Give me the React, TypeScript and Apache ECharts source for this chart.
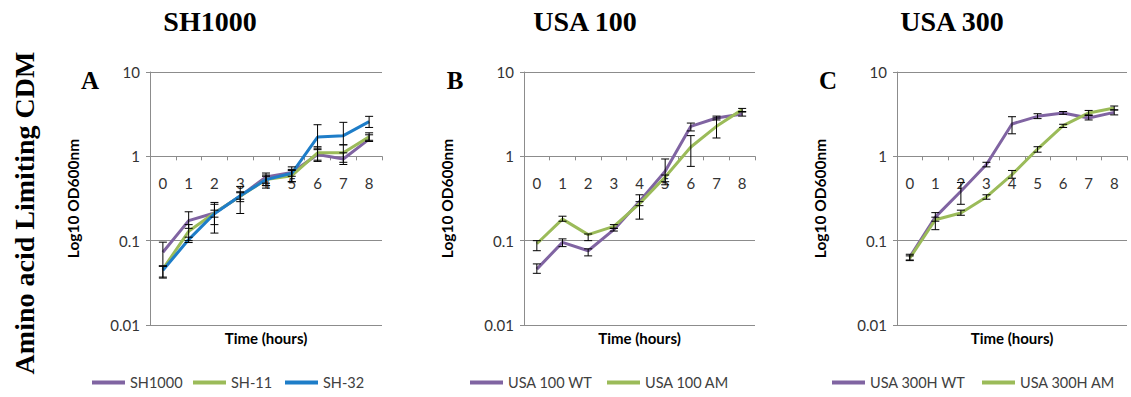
import React, { useEffect, useRef } from "react";
import * as echarts from "echarts";

// ---------- data ----------
const hours = ["0", "1", "2", "3", "4", "5", "6", "7", "8"];

// Panel A – SH1000 strains
const sh1000 = [0.073, 0.173, 0.213, 0.336, 0.569, 0.645, 1.05, 0.93, 1.6];
const sh11 = [0.046, 0.129, 0.213, 0.336, 0.53, 0.59, 1.1, 1.1, 1.7];
const sh32 = [0.0445, 0.103, 0.209, 0.34, 0.53, 0.63, 1.69, 1.76, 2.58];
const sh1000Lo = [0.05, 0.14, 0.155, 0.21, 0.45, 0.5, 0.87, 0.8, 1.5];
const sh1000Hi = [0.096, 0.22, 0.27, 0.44, 0.634, 0.75, 1.25, 1.1, 1.8];
const sh11Lo = [0.036, 0.1, 0.123, 0.29, 0.42, 0.5, 0.9, 0.85, 1.55];
const sh11Hi = [0.05, 0.155, 0.284, 0.38, 0.6, 0.68, 1.3, 1.37, 1.9];
const sh32Lo = [0.037, 0.095, 0.19, 0.31, 0.48, 0.58, 1.2, 1.37, 2.2];
const sh32Hi = [0.05, 0.11, 0.23, 0.37, 0.58, 0.7, 2.37, 2.53, 2.98];

// Panel B – USA 100
const usa100wt = [0.046, 0.0955, 0.076, 0.135, 0.292, 0.664, 2.27, 2.85, 3.18];
const usa100am = [0.092, 0.18, 0.118, 0.148, 0.275, 0.57, 1.29, 2.27, 3.58];
const usa100wtLo = [0.041, 0.085, 0.066, 0.13, 0.26, 0.5, 2.0, 2.7, 3.0];
const usa100wtHi = [0.053, 0.105, 0.08, 0.14, 0.35, 0.93, 2.48, 3.0, 3.35];
const usa100amLo = [0.076, 0.17, 0.1, 0.14, 0.18, 0.46, 0.76, 1.65, 3.4];
const usa100amHi = [0.1, 0.195, 0.12, 0.155, 0.29, 0.6, 1.76, 2.85, 3.7];

// Panel C – USA 300
const usa300wt = [0.064, 0.19, 0.385, 0.8, 2.42, 2.98, 3.27, 2.85, 3.32];
const usa300am = [0.062, 0.177, 0.213, 0.33, 0.606, 1.22, 2.31, 3.27, 3.74];
const usa300wtLo = [0.059, 0.17, 0.27, 0.75, 1.85, 2.8, 3.15, 2.7, 3.1];
const usa300wtHi = [0.069, 0.215, 0.49, 0.85, 2.95, 3.2, 3.4, 3.05, 3.55];
const usa300amLo = [0.058, 0.135, 0.2, 0.31, 0.55, 1.12, 2.2, 3.1, 3.55];
const usa300amHi = [0.066, 0.19, 0.23, 0.35, 0.68, 1.3, 2.4, 3.5, 3.95];

const yTicks = ["0.01", "0.1", "1", "10"];

// ---------- styling ----------
const PURPLE = "#8064A2";
const GREEN = "#9BBB59";
const BLUE = "#1E7DC8";
const AXIS_GRAY = "#8c8c8c";
const SANS = "Lato";
const SERIF = "Liberation Serif";

type S = { name: string; data: number[]; lo: number[]; hi: number[]; color: string; legendLeft: number };
type P = { left: number; width: number; title: string; titleX: number; letter: string; letterX: number; series: S[] };

const panels: P[] = [
  {
    left: 150, width: 232, title: "SH1000", titleX: 210, letter: "A", letterX: 90,
    series: [
      { name: "SH1000", data: sh1000, lo: sh1000Lo, hi: sh1000Hi, color: PURPLE, legendLeft: 92 },
      { name: "SH-11", data: sh11, lo: sh11Lo, hi: sh11Hi, color: GREEN, legendLeft: 193 },
      { name: "SH-32", data: sh32, lo: sh32Lo, hi: sh32Hi, color: BLUE, legendLeft: 285 },
    ],
  },
  {
    left: 524, width: 231, title: "USA 100", titleX: 585, letter: "B", letterX: 455,
    series: [
      { name: "USA 100 WT", data: usa100wt, lo: usa100wtLo, hi: usa100wtHi, color: PURPLE, legendLeft: 470 },
      { name: "USA 100 AM", data: usa100am, lo: usa100amLo, hi: usa100amHi, color: GREEN, legendLeft: 607 },
    ],
  },
  {
    left: 897, width: 230, title: "USA 300", titleX: 952, letter: "C", letterX: 828,
    series: [
      { name: "USA 300H WT", data: usa300wt, lo: usa300wtLo, hi: usa300wtHi, color: PURPLE, legendLeft: 832 },
      { name: "USA 300H AM", data: usa300am, lo: usa300amLo, hi: usa300amHi, color: GREEN, legendLeft: 982 },
    ],
  },
];

const GRID_TOP = 72;
const GRID_H = 253;

function buildOption() {
  const grid: any[] = [];
  const xAxis: any[] = [];
  const yAxis: any[] = [];
  const series: any[] = [];
  const legend: any[] = [];
  const graphic: any[] = [];

  panels.forEach((p, i) => {
    grid.push({ left: p.left, top: GRID_TOP, width: p.width, height: GRID_H, containLabel: false });
    xAxis.push({
      type: "category",
      gridIndex: i,
      data: hours,
      position: "bottom",
      offset: -(GRID_H * 2) / 3,
      boundaryGap: true,
      axisLine: { show: true, lineStyle: { color: AXIS_GRAY, width: 1 } },
      axisTick: { show: true, length: 4, lineStyle: { color: AXIS_GRAY } },
      axisLabel: { interval: 0, margin: 19, fontFamily: SANS, fontSize: 15, color: "#333" },
      splitLine: { show: false },
    });
    yAxis.push({
      type: "log",
      logBase: 10,
      gridIndex: i,
      min: 0.01,
      max: 10,
      name: "Log10 OD600nm",
      nameLocation: "middle",
      nameRotate: 90,
      nameGap: 69,
      nameTextStyle: { fontFamily: SANS, fontWeight: "bold", fontSize: 15.5, color: "#000" },
      axisLine: { show: true, lineStyle: { color: AXIS_GRAY } },
      axisTick: { show: true, length: 4, lineStyle: { color: AXIS_GRAY } },
      axisLabel: {
        margin: 10,
        fontFamily: SANS,
        fontSize: 15,
        color: "#333",
        formatter: (v: number) => {
          const idx = Math.round(Math.log10(v)) + 2;
          return yTicks[idx] ?? String(v);
        },
      },
      splitLine: { show: true, lineStyle: { color: AXIS_GRAY, width: 1 } },
    });

    p.series.forEach((s) => {
      series.push({
        type: "line",
        name: s.name,
        xAxisIndex: i,
        yAxisIndex: i,
        data: s.data,
        symbol: "none",
        lineStyle: { color: s.color, width: 3 },
        itemStyle: { color: s.color },
        z: 2,
      });
      series.push({
        type: "custom",
        name: s.name + " err",
        xAxisIndex: i,
        yAxisIndex: i,
        data: s.lo.map((lo, k) => [k, lo, s.hi[k]]),
        encode: { x: 0, y: [1, 2] },
        z: 3,
        renderItem: (_params: any, api: any) => {
          const x = api.value(0);
          const a = api.coord([x, api.value(1)]);
          const b = api.coord([x, api.value(2)]);
          const w = 4;
          const st = { stroke: "#000", lineWidth: 1 };
          return {
            type: "group",
            children: [
              { type: "line", shape: { x1: a[0], y1: a[1], x2: b[0], y2: b[1] }, style: st },
              { type: "line", shape: { x1: a[0] - w, y1: a[1], x2: a[0] + w, y2: a[1] }, style: st },
              { type: "line", shape: { x1: b[0] - w, y1: b[1], x2: b[0] + w, y2: b[1] }, style: st },
            ],
          };
        },
      });
      legend.push({
        data: [s.name],
        left: s.legendLeft,
        top: 375,
        padding: 0,
        icon: "rect",
        itemWidth: 33,
        itemHeight: 4,
        itemGap: 5,
        selectedMode: false,
        textStyle: { fontFamily: SANS, fontSize: 14.5, color: "#404040" },
      });
    });

    graphic.push({
      type: "text",
      x: p.titleX,
      y: 21,
      style: {
        text: p.title,
        font: `bold 28px "${SERIF}"`,
        fill: "#000",
        textAlign: "center",
        textVerticalAlign: "middle",
      },
    });
    graphic.push({
      type: "text",
      x: p.letterX,
      y: 80,
      style: {
        text: p.letter,
        font: `bold 25px "${SERIF}"`,
        fill: "#000",
        textAlign: "center",
        textVerticalAlign: "middle",
      },
    });
    graphic.push({
      type: "text",
      x: p.left + p.width / 2,
      y: 338,
      style: {
        text: "Time (hours)",
        font: `bold 15px "${SANS}"`,
        fill: "#000",
        textAlign: "center",
        textVerticalAlign: "middle",
      },
    });
  });

  graphic.push({
    type: "text",
    x: 24,
    y: 213,
    rotation: Math.PI / 2,
    style: {
      text: "Amino acid Limiting CDM",
      font: `bold 28px "${SERIF}"`,
      fill: "#000",
      textAlign: "center",
      textVerticalAlign: "middle",
    },
  });

  return {
    animation: false,
    backgroundColor: "#fff",
    grid,
    xAxis,
    yAxis,
    series,
    legend,
    graphic,
  };
}

export default function App() {
  const ref = useRef<HTMLDivElement>(null);
  useEffect(() => {
    if (!ref.current) return;
    const chart = echarts.init(ref.current, undefined, { renderer: "svg" });
    chart.setOption(buildOption() as any);
    return () => chart.dispose();
  }, []);
  return (
    <div
      ref={ref}
      style={{ position: "fixed", left: 0, top: 0, width: 1131, height: 397, background: "#fff" }}
    />
  );
}
